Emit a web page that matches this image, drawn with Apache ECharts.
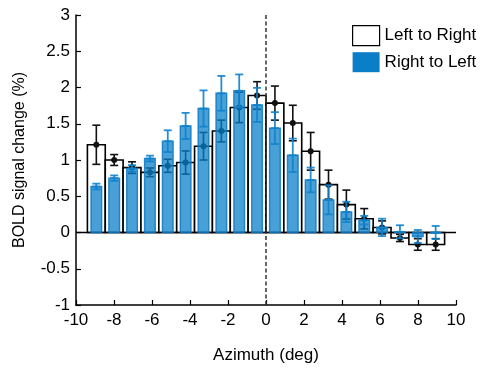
<!DOCTYPE html>
<html>
<head>
<meta charset="utf-8">
<script src="https://cdn.jsdelivr.net/npm/echarts@6/dist/echarts.min.js"></script>
<style>
  html, body { margin: 0; padding: 0; background: #fff; }
  #chart { width: 482px; height: 371px; }
</style>
</head>
<body>
<div id="chart"></div>
<script>
// Azimuth bin centres (deg)
const binCenters = [-8.93, -7.99, -7.05, -6.11, -5.17, -4.23, -3.29, -2.35, -1.41, -0.47,
                    0.47, 1.41, 2.35, 3.29, 4.23, 5.17, 6.11, 7.05, 7.99, 8.93];
// Mean BOLD change (%) and error, left-to-right sweep
const leftToRight = [1.21, 1.00, 0.895, 0.83, 0.92, 0.965, 1.19, 1.40, 1.725, 1.89,
                     1.785, 1.51, 1.12, 0.66, 0.385, 0.19, 0.07, -0.075, -0.165, -0.165];
const leftToRightErr = [0.27, 0.075, 0.08, 0.06, 0.09, 0.16, 0.19, 0.15, 0.21, 0.19,
                        0.235, 0.245, 0.26, 0.2, 0.2, 0.14, 0.09, 0.05, 0.08, 0.08];
// Mean BOLD change (%) and error, right-to-left sweep
const rightToLeft = [0.634, 0.75, 0.885, 1.02, 1.26, 1.47, 1.71, 1.92, 1.955, 1.76,
                     1.44, 1.065, 0.725, 0.45, 0.284, 0.17, 0.07, 0.01, -0.055, 0.0];
const rightToLeftErr = [0.04, 0.037, 0.045, 0.04, 0.15, 0.18, 0.25, 0.24, 0.225, 0.235,
                        0.22, 0.23, 0.17, 0.2, 0.14, 0.06, 0.12, 0.09, 0.09, 0.09];
const xTicks = { min: -10, max: 10, interval: 2 };
const yTicks = { min: -1, max: 3, interval: 0.5 };

const binWidth = 0.94;
const barWidth = 0.56;
const blue = '#0A7FC8';
const font = 'Liberation Sans, Arial, sans-serif';

function rectFrom(api, x, half, v) {
  const a = api.coord([x - half, 0]);
  const b = api.coord([x + half, v]);
  return {
    x: a[0], y: Math.min(a[1], b[1]),
    width: b[0] - a[0], height: Math.max(Math.abs(b[1] - a[1]), 0.5)
  };
}

function errorBar(api, color, lw, capHalf, marker) {
  const x = api.value(0), v = api.value(1), e = api.value(2);
  const top = api.coord([x, v + e]);
  const bot = api.coord([x, v - e]);
  const mid = api.coord([x, v]);
  const style = { stroke: color, lineWidth: lw };
  const children = [
    { type: 'line', shape: { x1: top[0], y1: top[1], x2: bot[0], y2: bot[1] }, style },
    { type: 'line', shape: { x1: top[0] - capHalf, y1: top[1], x2: top[0] + capHalf, y2: top[1] }, style },
    { type: 'line', shape: { x1: bot[0] - capHalf, y1: bot[1], x2: bot[0] + capHalf, y2: bot[1] }, style }
  ];
  if (marker === 'circle') {
    children.push({ type: 'circle', shape: { cx: mid[0], cy: mid[1], r: 3 }, style: { fill: color } });
  } else {
    children.push({ type: 'line', shape: { x1: mid[0] - capHalf, y1: mid[1], x2: mid[0] + capHalf, y2: mid[1] }, style });
  }
  return { type: 'group', children };
}

const ltrData = binCenters.map((x, i) => [x, leftToRight[i], leftToRightErr[i]]);
const rtlData = binCenters.map((x, i) => [x, rightToLeft[i], rightToLeftErr[i]]);

const chart = echarts.init(document.getElementById('chart'), null, { renderer: 'canvas' });
chart.setOption({
  animation: false,
  backgroundColor: '#fff',
  textStyle: { fontFamily: font, color: '#000' },
  grid: { left: 76, right: 26, top: 15, bottom: 66 },
  legend: {
    orient: 'vertical',
    left: 352, top: 25,
    itemWidth: 27, itemHeight: 20, itemGap: 6,
    padding: 0,
    textStyle: { fontFamily: font, fontSize: 17, color: '#000' },
    data: [
      { name: 'Left to Right', icon: 'rect', itemStyle: { color: '#fff', borderColor: '#000', borderWidth: 1.2 } },
      { name: 'Right to Left', icon: 'rect', itemStyle: { color: blue, borderWidth: 0 } }
    ]
  },
  xAxis: {
    type: 'value',
    min: xTicks.min, max: xTicks.max, interval: xTicks.interval,
    name: 'Azimuth (deg)', nameLocation: 'middle', nameGap: 42,
    nameTextStyle: { fontFamily: font, fontSize: 17, color: '#000' },
    axisLine: { onZero: false, lineStyle: { color: '#000', width: 1.5 } },
    axisTick: { inside: true, length: 5, lineStyle: { color: '#000', width: 1.2 } },
    axisLabel: { fontFamily: font, fontSize: 17, color: '#000', margin: 7 },
    splitLine: { show: false }
  },
  yAxis: {
    type: 'value',
    min: yTicks.min, max: yTicks.max, interval: yTicks.interval,
    name: 'BOLD signal change (%)', nameLocation: 'middle', nameGap: 48,
    nameTextStyle: { fontFamily: font, fontSize: 16, color: '#000' },
    axisLine: { onZero: false, lineStyle: { color: '#000', width: 1.5 } },
    axisTick: { inside: true, length: 5, lineStyle: { color: '#000', width: 1.2 } },
    axisLabel: { fontFamily: font, fontSize: 17, color: '#000', margin: 6 },
    splitLine: { show: false }
  },
  series: [
    {
      name: 'Left to Right',
      type: 'custom',
      z: 1,
      itemStyle: { color: '#fff', borderColor: '#000' },
      data: ltrData,
      renderItem: (params, api) => ({
        type: 'rect',
        shape: rectFrom(api, api.value(0), binWidth / 2, api.value(1)),
        style: { fill: '#fff', stroke: '#000', lineWidth: 1.6 }
      })
    },
    {
      name: 'zero',
      type: 'line',
      z: 2,
      silent: true,
      symbol: 'none',
      data: [[-10, 0], [10, 0]],
      lineStyle: { color: '#000', width: 1.3 }
    },
    {
      name: 'Left to Right err',
      type: 'custom',
      z: 3,
      data: ltrData,
      renderItem: (params, api) => errorBar(api, '#111', 1.6, 4, 'circle')
    },
    {
      name: 'Right to Left',
      type: 'custom',
      z: 4,
      itemStyle: { color: blue },
      data: rtlData,
      renderItem: (params, api) => ({
        type: 'rect',
        shape: rectFrom(api, api.value(0), barWidth / 2, api.value(1)),
        style: { fill: 'rgba(10,127,200,0.74)', stroke: 'rgba(10,120,195,0.85)', lineWidth: 1.4 }
      })
    },
    {
      name: 'Right to Left err',
      type: 'custom',
      z: 5,
      data: rtlData,
      renderItem: (params, api) => errorBar(api, 'rgba(15,130,205,0.9)', 1.8, 4, 'tick')
    },
    {
      name: 'midline',
      type: 'line',
      z: 6,
      silent: true,
      symbol: 'none',
      data: [[0, -1], [0, 3]],
      lineStyle: { color: '#333', width: 1.5, type: [4, 2.5] }
    }
  ]
});
</script>
</body>
</html>
